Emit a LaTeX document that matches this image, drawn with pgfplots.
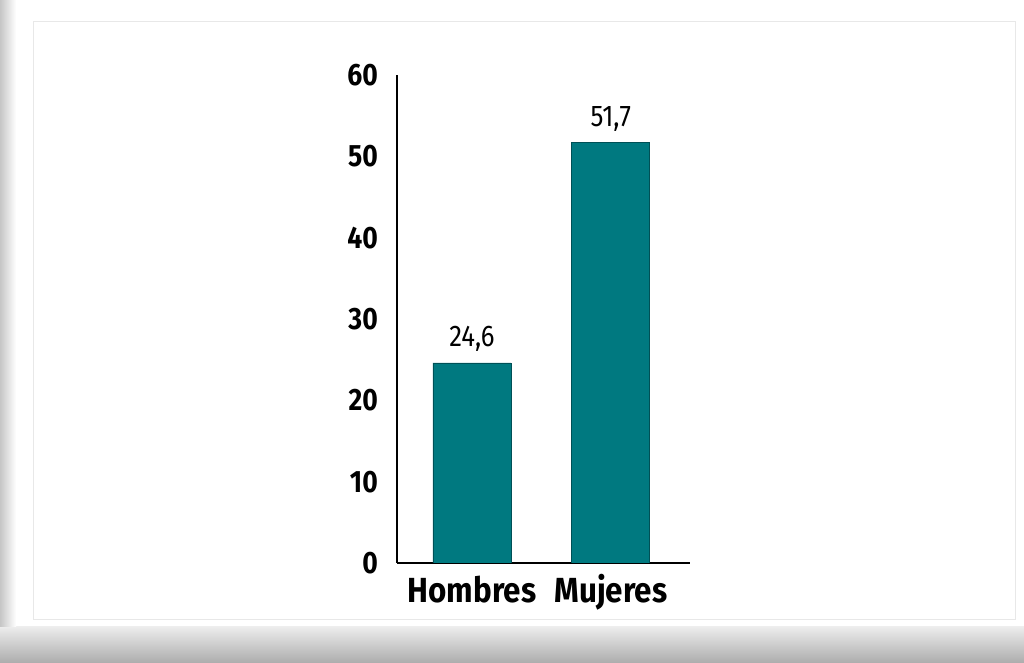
\documentclass[border=0pt]{standalone}
\usepackage{pgfplots}
\pgfplotsset{compat=1.18}
\usepackage{fontspec}
\setmainfont{Fira Sans}
\newfontfamily\cf[FakeStretch=0.86]{Fira Sans}
\newfontfamily\cfx[FakeStretch=0.9]{Fira Sans}
\definecolor{teal1}{RGB}{0,121,128}
\definecolor{teal2}{RGB}{0,80,86}
\begin{document}
\begin{tikzpicture}[x=1bp,y=1bp]
\useasboundingbox (0,0) rectangle (1024,663);
\fill[white] (0,0) rectangle (1024,663);
\shade[top color=gray!15, bottom color=gray!65] (0,0) rectangle (1024,36);
\shade[left color=gray!45, right color=white] (0,36) rectangle (16,663);
\draw[gray!18, line width=1bp] (33,43) rectangle (1015,641);
\begin{axis}[
  at={(397bp,100bp)}, anchor=south west,
  scale only axis, width=293bp, height=488bp,
  xmin=-0.54, xmax=1.57, ymin=0, ymax=60,
  axis x line=bottom, axis y line=left,
  axis line style={-, line width=2bp, black},
  major tick length=0pt,
  ytick={0,10,20,30,40,50,60},
  xtick={0,1}, xticklabels={Hombres,Mujeres},
  /pgf/number format/assume math mode=true,
  yticklabel style={font=\cf\bfseries\fontsize{31}{33}\selectfont, inner sep=0pt, anchor=east, xshift=-19bp},
  xticklabel style={font=\cfx\bfseries\fontsize{35}{37}\selectfont, inner sep=0pt, anchor=base, yshift=-40bp},
  point meta=explicit symbolic,
  nodes near coords,
  nodes near coords style={font=\cf\fontsize{30}{32}\selectfont, inner sep=0pt, anchor=south, yshift=11bp, text=black},
]
\addplot[ybar, bar width=78bp, fill=teal1, draw=teal2, line width=0.8bp]
  table[x=x, y=y, meta=lab] {
x y lab
0 24.6 {24,6}
1 51.7 {51,7}
};
\end{axis}
\end{tikzpicture}
\end{document}
